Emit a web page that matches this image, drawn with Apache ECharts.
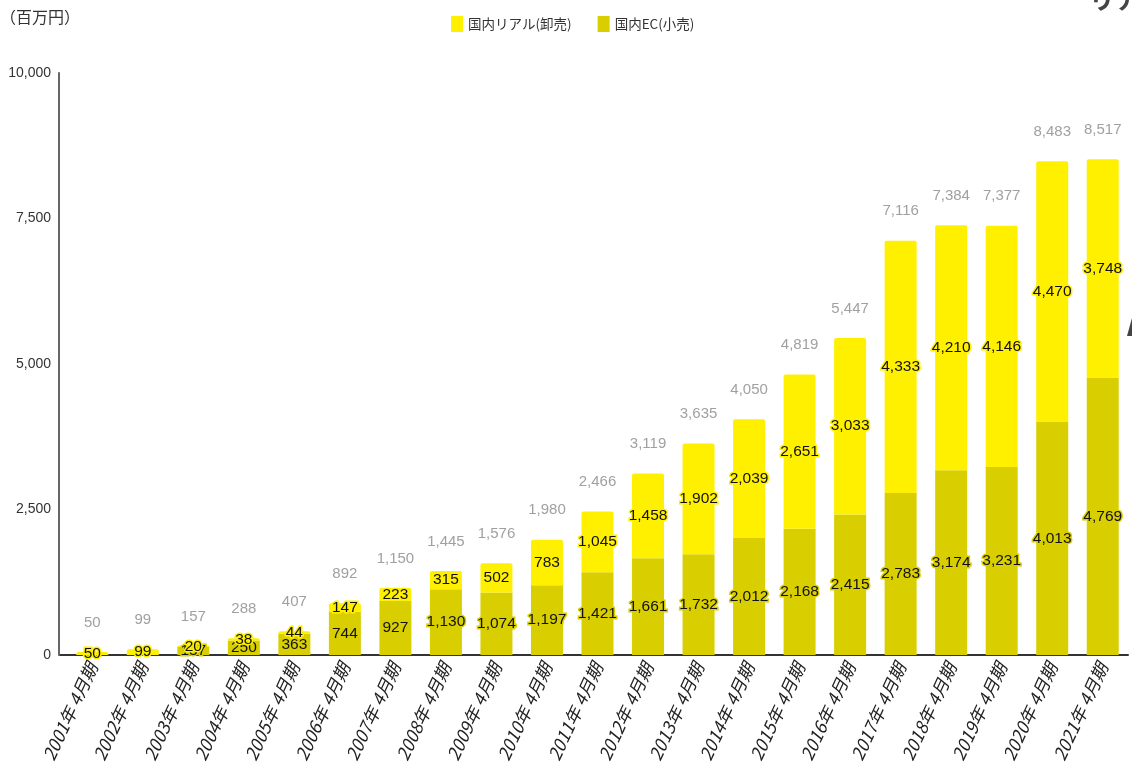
<!DOCTYPE html>
<html>
<head>
<meta charset="utf-8">
<script src="https://cdn.jsdelivr.net/npm/echarts@6/dist/echarts.min.js"></script>
<style>
  html, body { margin: 0; padding: 0; background: #fff; }
  #chart { width: 1132px; height: 775px; }
</style>
</head>
<body>
<div id="chart"></div>
<script>
// Fiscal periods (April year-end)
const categories = [
  '2001年 4月期', '2002年 4月期', '2003年 4月期', '2004年 4月期', '2005年 4月期',
  '2006年 4月期', '2007年 4月期', '2008年 4月期', '2009年 4月期', '2010年 4月期',
  '2011年 4月期', '2012年 4月期', '2013年 4月期', '2014年 4月期', '2015年 4月期',
  '2016年 4月期', '2017年 4月期', '2018年 4月期', '2019年 4月期', '2020年 4月期',
  '2021年 4月期'
];
// Domestic EC (retail), millions of yen
const ecRetail = [0, 0, 137, 250, 363, 744, 927, 1130, 1074, 1197, 1421, 1661, 1732, 2012, 2168, 2415, 2783, 3174, 3231, 4013, 4769];
// Domestic real stores (wholesale), millions of yen
const realWholesale = [50, 99, 20, 38, 44, 147, 223, 315, 502, 783, 1045, 1458, 1902, 2039, 2651, 3033, 4333, 4210, 4146, 4470, 3748];
// Period totals
const totals = [50, 99, 157, 288, 407, 892, 1150, 1445, 1576, 1980, 2466, 3119, 3635, 4050, 4819, 5447, 7116, 7384, 7377, 8483, 8517];
const yTicks = { min: 0, max: 10000, interval: 2500 };

const COLOR_REAL = '#FFF000';
const COLOR_EC = '#D9CF00';
const NUMFONT = '"Liberation Sans Narrow", "Liberation Sans", Arial, sans-serif';
const JP = '"Noto Sans CJK JP", "Noto Sans", sans-serif';

const fmt = v => Number(v).toLocaleString('en-US');

const chart = echarts.init(document.getElementById('chart'), null, { renderer: 'canvas' });

const segLabel = color => ({
  show: true,
  position: 'inside',
  color: '#111',
  fontFamily: NUMFONT,
  fontSize: 15.5,
  textBorderColor: color,
  textBorderWidth: 3,
  formatter: p => (p.value > 0 ? fmt(p.value) : '')
});

const gridLeft = 67, gridRight = 4, gridTop = 73, gridBottom = 120;

chart.setOption({
  animation: false,
  backgroundColor: '#fff',
  textStyle: { fontFamily: JP },
  legend: {
    top: 11,
    left: 446,
    itemWidth: 12,
    itemHeight: 16,
    itemGap: 26,
    icon: 'rect',
    textStyle: { fontFamily: JP, fontSize: 13.5, color: '#333' },
    data: ['国内リアル(卸売)', '国内EC(小売)']
  },
  grid: { left: gridLeft, right: gridRight, top: gridTop, bottom: gridBottom },
  xAxis: {
    type: 'category',
    data: categories,
    axisLine: { lineStyle: { color: '#333', width: 2 } },
    axisTick: { show: false },
    axisLabel: {
      interval: 0,
      rotate: 65,
      margin: 9,
      color: '#222',
      fontSize: 17.5,
      fontStyle: 'italic',
      fontFamily: JP
    }
  },
  yAxis: {
    type: 'value',
    min: yTicks.min,
    max: yTicks.max,
    interval: yTicks.interval,
    offset: 8,
    axisLine: { show: true, lineStyle: { color: '#666', width: 2 } },
    axisTick: { show: false },
    splitLine: { show: false },
    axisLabel: {
      color: '#333',
      fontSize: 14,
      fontFamily: NUMFONT,
      margin: 8,
      formatter: v => fmt(v)
    }
  },
  graphic: [
    {
      type: 'text',
      left: 0,
      top: 9,
      style: { text: '（百万円）', fontSize: 16, fontFamily: JP, fill: '#333' }
    },
    {
      type: 'text',
      left: 1089,
      top: -14,
      style: { text: 'リア', fontSize: 26, fontWeight: 'bold', fontFamily: JP, fill: '#444' }
    },
    {
      type: 'line',
      shape: { x1: gridLeft - 8, y1: 775 - gridBottom, x2: gridLeft, y2: 775 - gridBottom },
      style: { stroke: '#333', lineWidth: 2 }
    },
    {
      type: 'polygon',
      shape: { points: [[1127, 336], [1132, 318], [1132, 336]] },
      style: { fill: '#444' }
    }
  ],
  series: [
    {
      name: '国内EC(小売)',
      type: 'bar',
      stack: 'sales',
      barWidth: 32,
      itemStyle: { color: COLOR_EC },
      label: segLabel(COLOR_EC),
      data: ecRetail
    },
    {
      name: '国内リアル(卸売)',
      type: 'bar',
      stack: 'sales',
      barWidth: 32,
      itemStyle: { color: COLOR_REAL, borderRadius: [2, 2, 0, 0] },
      label: segLabel(COLOR_REAL),
      data: realWholesale
    },
    {
      name: 'total',
      type: 'scatter',
      symbolSize: 0,
      silent: true,
      z: 5,
      label: {
        show: true,
        position: 'top',
        distance: 22,
        color: '#888',
        fontSize: 15,
        fontFamily: NUMFONT,
        formatter: p => fmt(p.value)
      },
      data: totals
    }
  ]
});
</script>
</body>
</html>
